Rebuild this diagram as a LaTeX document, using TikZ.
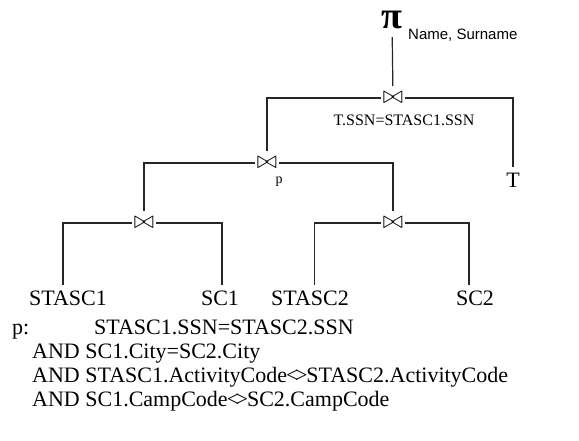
\documentclass[tikz,border=0pt]{standalone}
\usepackage{amsmath,amssymb}
\usepackage{fontspec}
\setmainfont{Liberation Serif}
\newfontfamily\helv{Liberation Sans}
\usetikzlibrary{positioning}

\tikzset{
  joinop/.style={inner xsep=2pt,inner ysep=6pt,font=\fontsize{24}{24}\selectfont},
  leaf/.style={anchor=base,inner sep=5pt,font=\fontsize{22}{26}\selectfont},
  cond/.style={anchor=base west,inner sep=0pt,font=\fontsize{22}{26}\selectfont},
  edge/.style={draw=black!85,line width=1.2pt},
}
\newcommand{\notequal}{\kern-1pt<\kern-3.5pt>\kern-1pt}

\begin{document}
\begin{tikzpicture}[x=1pt,y=-1pt]
\useasboundingbox (0,0) rectangle (579,440);
% projection on top
\node[inner xsep=2pt,inner ysep=1pt,font=\bfseries\fontsize{38}{38}\selectfont] (pi) at (392,20) {π};
\node[anchor=west,inner sep=0pt,font=\helv\fontsize{15}{18}\selectfont] (attrs) at (408,35) {Name, Surname};
% joins
\node[joinop] (j1) at (393,98) {$\bowtie$};
\node[anchor=base,inner sep=0pt,font=\fontsize{16}{18}\selectfont] (c1) at (404,125) {T.SSN=STASC1.SSN};
\node[joinop] (j2) at (267,163) {$\bowtie$};
\node[anchor=base,inner sep=0pt,font=\fontsize{14}{16}\selectfont] (c2) at (279,183) {p};
\node[joinop] (j3) at (144,223) {$\bowtie$};
\node[joinop] (j4) at (393,223) {$\bowtie$};
% relations
\node[leaf] (t) at (513,187) {T};
\node[leaf] (stasc1) at (68,305) {STASC1};
\node[leaf] (sc1) at (220,305) {SC1};
\node[leaf] (stasc2) at (310,305) {STASC2};
\node[leaf] (sc2) at (475,305) {SC2};
% tree edges
\draw[edge,shorten <=7pt] (pi) -- (j1);
\draw[edge] (j1) -| (j2);
\draw[edge] (j1) -| (t);
\draw[edge] (j2) -| (j3);
\draw[edge] (j2) -| (j4);
\draw[edge] (j3) -| ([xshift=-5pt]stasc1.north);
\draw[edge] (j3) -| ([xshift=2pt]sc1.north);
\draw[edge] (j4) -| ([xshift=4.5pt]stasc2.north);
\draw[edge] (j4) -| ([xshift=-6pt]sc2.north);
% predicate p
\node[cond] (plabel) at (12,334) {p:};
\node[cond] (p1) at (94,334) {STASC1.SSN=STASC2.SSN};
\node[cond] (p2) at (32,358) {AND SC1.City=SC2.City};
\node[cond] (p3) at (32,382) {AND STASC1.ActivityCode\notequal STASC2.ActivityCode};
\node[cond] (p4) at (32,406) {AND SC1.CampCode\notequal SC2.CampCode};
\end{tikzpicture}
\end{document}
